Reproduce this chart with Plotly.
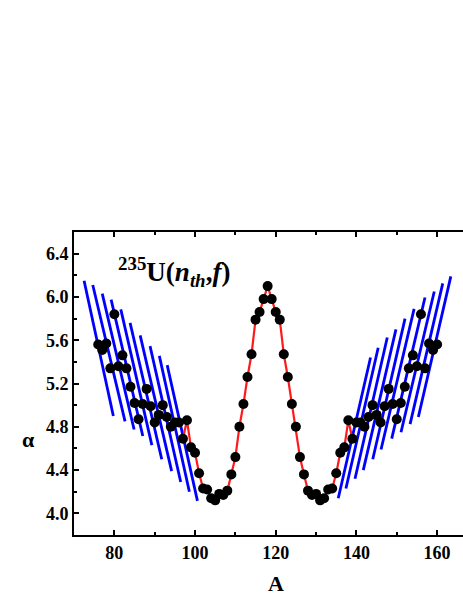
import plotly.graph_objects as go

# mass number and alpha values
mass = list(range(76, 161))
alpha = [5.56, 5.51, 5.57, 5.34, 5.84, 5.36, 5.46, 5.34, 5.17, 5.02,
         4.87, 5.01, 5.15, 4.99, 4.84, 4.91, 5.00, 4.89, 4.80, 4.84,
         4.84, 4.69, 4.86, 4.61, 4.56, 4.37, 4.23, 4.22, 4.14, 4.12,
         4.18, 4.17, 4.21, 4.36, 4.52, 4.80, 5.01, 5.26, 5.47, 5.79,
         5.86, 5.98, 6.10, 5.98, 5.86, 5.79, 5.47, 5.26, 5.01, 4.80,
         4.52, 4.36, 4.21, 4.17, 4.18, 4.12, 4.14, 4.22, 4.23, 4.37,
         4.56, 4.61, 4.86, 4.69, 4.84, 4.84, 4.80, 4.89, 5.00, 4.91,
         4.84, 4.99, 5.15, 5.01, 4.87, 5.02, 5.17, 5.34, 5.46, 5.36,
         5.84, 5.34, 5.57, 5.51, 5.56]

# red curve covers the middle region
red_start, red_end = 97, 139

# blue segments, left side (top end / bottom end)
left_top_a = [72.5, 74.65, 77.0, 79.2, 81.6, 83.9, 86.4, 88.85, 91.15, 93.1]
left_top_v = [6.15, 6.11, 6.03, 5.975, 5.885, 5.76, 5.645, 5.545, 5.455, 5.37]
left_bot_a = [79.75, 82.65, 84.9, 87.05, 89.3, 91.75, 94.2, 96.45, 98.6, 100.6]
left_bot_v = [4.90, 4.85, 4.775, 4.715, 4.63, 4.50, 4.39, 4.29, 4.20, 4.115]

# blue segments, right side
right_top_a = [163.4, 161.4, 159.3, 157.0, 154.3, 152.05, 149.8, 147.65, 145.4, 143.5]
right_top_v = [6.19, 6.125, 6.05, 5.995, 5.89, 5.80, 5.70, 5.625, 5.53, 5.44]
right_bot_a = [155.35, 153.3, 151.05, 148.75, 146.1, 144.05, 141.7, 139.65, 137.4, 135.5]
right_bot_v = [4.89, 4.825, 4.75, 4.69, 4.59, 4.50, 4.40, 4.32, 4.23, 4.14]

FONT = "Times New Roman, Liberation Serif, serif"

bx, by = [], []
for ta, tv, ba, bv in zip(left_top_a + right_top_a, left_top_v + right_top_v,
                          left_bot_a + right_bot_a, left_bot_v + right_bot_v):
    bx += [ta, ba, None]
    by += [tv, bv, None]

red_x = [a for a in mass if red_start <= a <= red_end]
red_y = [v for a, v in zip(mass, alpha) if red_start <= a <= red_end]

fig = go.Figure()
fig.add_trace(go.Scatter(x=bx, y=by, mode="lines",
                         line=dict(color="#0000ff", width=2.8),
                         hoverinfo="skip"))
fig.add_trace(go.Scatter(x=red_x, y=red_y, mode="lines",
                         line=dict(color="#ff1a1a", width=2.2)))
fig.add_trace(go.Scatter(x=mass, y=alpha, mode="markers",
                         marker=dict(color="black", size=10)))

fig.update_layout(
    width=463, height=599,
    margin=dict(l=74, r=0, t=232, b=64),
    plot_bgcolor="white", paper_bgcolor="white",
    showlegend=False,
    font=dict(family=FONT, color="black"),
)
fig.update_xaxes(
    range=[70, 166.42], tickvals=[80, 100, 120, 140, 160],
    showline=True, linecolor="black", linewidth=2, mirror="ticks",
    ticks="inside", ticklen=5, tickwidth=2, tickcolor="black",
    minor=dict(ticks="inside", ticklen=3, tickwidth=1.5, dtick=10, tickcolor="black"),
    showgrid=False, zeroline=False, automargin=False,
    tickfont=dict(family=FONT, size=18, color="black", weight="bold"),
)
fig.update_yaxes(
    range=[3.8, 6.6], tickvals=[4.0, 4.4, 4.8, 5.2, 5.6, 6.0, 6.4],
    tickformat=".1f",
    showline=True, linecolor="black", linewidth=2, mirror=False,
    ticks="inside", ticklen=5, tickwidth=2, tickcolor="black",
    minor=dict(ticks="inside", ticklen=3, tickwidth=1.5, dtick=0.2, tickcolor="black"),
    showgrid=False, zeroline=False, automargin=False,
    tickfont=dict(family=FONT, size=18, color="black", weight="bold"),
)

fig.add_annotation(x=80.3, y=6.23, xref="x", yref="y", xanchor="left", yanchor="middle",
                   text="<b><sup>235</sup>U(<i>n</i><sub><i>th</i></sub>,<i>f</i>)</b>",
                   showarrow=False, font=dict(family=FONT, size=27, color="black"))
fig.add_annotation(x=120, y=-0.16, xref="x", yref="paper", yanchor="middle",
                   text="<b>A</b>", showarrow=False,
                   font=dict(family=FONT, size=22, color="black"))
fig.add_annotation(x=-0.118, y=4.68, xref="paper", yref="y", xanchor="center",
                   text="<b>α</b>", showarrow=False,
                   font=dict(family=FONT, size=22, color="black"))

# page body has a default margin; drop it so the figure sits at the window corner
fig.write_html("out.html", config={"displayModeBar": False},
               post_script="document.body.style.margin='0';")
